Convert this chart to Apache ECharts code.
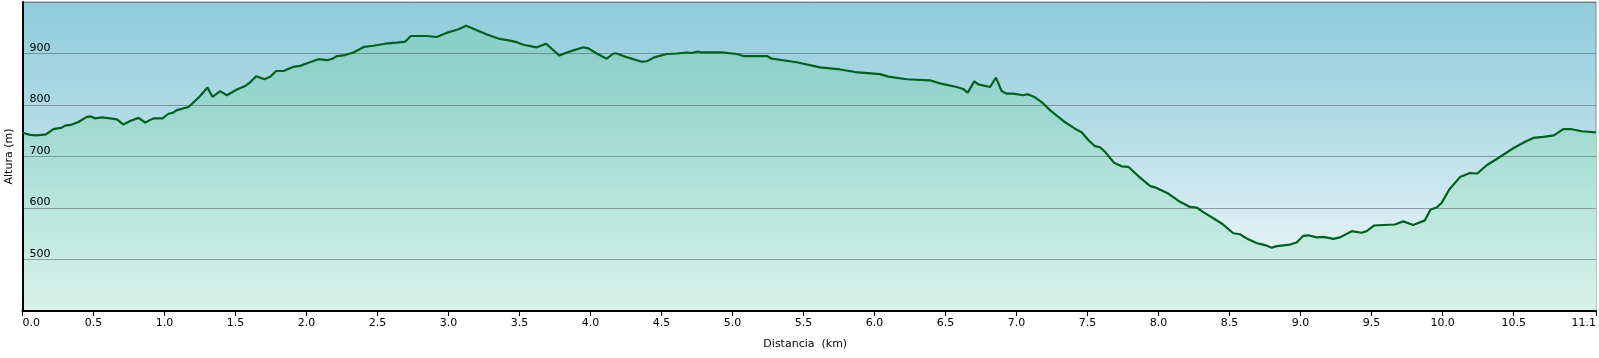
<!DOCTYPE html>
<html>
<head>
<meta charset="utf-8">
<script src="https://cdn.jsdelivr.net/npm/echarts@6/dist/echarts.min.js"></script>
<style>
  html, body { margin: 0; padding: 0; background: #fff; }
  #chart { width: 1599px; height: 358px; }
</style>
</head>
<body>
<div id="chart"></div>
<script>
// perfil de altura: distancia (km) / altura (m)
const distKm = [0, 0.054, 0.10, 0.165, 0.218, 0.277, 0.30, 0.348, 0.394, 0.453, 0.477, 0.512, 0.559, 0.617, 0.665, 0.711, 0.758, 0.817, 0.864, 0.922, 0.986,
  1.028, 1.059, 1.087, 1.169, 1.246, 1.302, 1.338, 1.392, 1.439, 1.509, 1.568, 1.603, 1.645, 1.704, 1.744, 1.786, 1.838, 1.904, 1.955,
  2.014, 2.084, 2.143, 2.185, 2.213, 2.272, 2.330, 2.406, 2.471, 2.554, 2.636, 2.694, 2.734, 2.847, 2.917, 2.976,
  3.070, 3.124, 3.175, 3.270, 3.351, 3.434, 3.481, 3.527, 3.621, 3.687, 3.781, 3.833, 3.879, 3.950, 3.985,
  4.044, 4.114, 4.161, 4.185, 4.231, 4.361, 4.396, 4.454, 4.537, 4.607, 4.678, 4.713, 4.755, 4.783, 4.935,
  5.030, 5.076, 5.241, 5.276, 5.452, 5.616, 5.757, 5.863, 6.038, 6.097, 6.226, 6.390, 6.461, 6.578, 6.625, 6.656, 6.702, 6.731, 6.813, 6.855, 6.895, 6.930, 6.977,
  7.047, 7.078, 7.130, 7.188, 7.235, 7.329, 7.411, 7.458, 7.505, 7.552, 7.587, 7.623, 7.686, 7.740, 7.787, 7.857, 7.939, 7.986,
  8.068, 8.151, 8.221, 8.268, 8.315, 8.385, 8.444, 8.526, 8.573, 8.620, 8.690, 8.749, 8.796, 8.831, 8.925, 8.972,
  9.019, 9.054, 9.113, 9.160, 9.230, 9.277, 9.360, 9.430, 9.465, 9.516, 9.582, 9.664, 9.723, 9.793, 9.875, 9.915, 9.958, 9.993,
  10.047, 10.122, 10.192, 10.244, 10.310, 10.403, 10.497, 10.591, 10.638, 10.708, 10.784, 10.849, 10.908, 10.979, 11.079];

const altM = [746, 742, 741, 743, 753, 756, 760, 762, 767, 777, 778, 774, 776, 774, 772, 762, 769, 775, 766, 774, 774,
  783, 785, 790, 796, 816, 834, 816, 827, 819, 830, 837, 844, 856, 850, 855, 866, 866, 874, 876,
  882, 889, 887, 890, 895, 897, 902, 913, 915, 919, 921, 923, 934, 934, 932, 939,
  947, 954, 948, 937, 929, 925, 922, 917, 912, 919, 896, 902, 906, 912, 910,
  900, 890, 900, 900, 895, 884, 885, 893, 899, 900, 902, 901, 904, 902, 902,
  899, 895, 895, 890, 883, 873, 869, 864, 860, 855, 850, 848, 842, 835, 831, 824, 846, 840, 835, 853, 827, 822, 822,
  819, 821, 815, 803, 790, 769, 754, 747, 732, 720, 718, 709, 688, 681, 680, 662, 643, 639,
  628, 612, 602, 601, 592, 580, 570, 551, 549, 541, 532, 528, 523, 526, 529, 533,
  546, 547, 543, 544, 540, 543, 555, 552, 555, 566, 567, 568, 574, 567, 576, 597, 601, 610,
  636, 660, 668, 667, 683, 699, 716, 730, 736, 738, 741, 753, 753, 749, 747];

const xTicks = [0, 0.5, 1, 1.5, 2, 2.5, 3, 3.5, 4, 4.5, 5, 5.5, 6, 6.5, 7, 7.5, 8, 8.5, 9, 9.5, 10, 10.5, 11.08];
const yTicks = [500, 600, 700, 800, 900];

let chartDom = document.getElementById('chart');
let myChart = echarts.init(chartDom);

const font = 'DejaVu Sans';
const points = distKm.map((d, i) => [d, altM[i]]);

var option = {
  animation: false,
  grid: {
    left: 22.5,
    right: 3,
    top: 2,
    bottom: 47,
    outerBoundsMode: 'none',
    containLabel: false,
    show: true,
    borderColor: '#8a8a8a',
    borderWidth: 1,
    backgroundColor: {
      type: 'linear', x: 0, y: 0, x2: 0, y2: 311, global: true,
      colorStops: [
        { offset: 0, color: '#8dcbd9' },
        { offset: 0.4, color: '#b3dce7' },
        { offset: 0.78, color: '#e0f0f5' },
        { offset: 1, color: '#eef7fa' },
      ],
    },
  },
  xAxis: {
    type: 'value',
    min: 0,
    max: 11.08,
    z: 3,
    name: 'Distancia  (km)',
    nameLocation: 'middle',
    nameGap: 28,
    nameTextStyle: { fontFamily: font, fontSize: 11, color: '#000', padding: [0, 8, 0, 0] },
    axisLine: { show: true, lineStyle: { color: '#000', width: 2 } },
    axisTick: { show: true, length: 5, customValues: xTicks, lineStyle: { color: '#000', width: 1 } },
    axisLabel: {
      customValues: xTicks,
      formatter: (v) => v.toFixed(1),
      fontFamily: font,
      fontSize: 11,
      color: '#000',
      margin: 7,
      alignMinLabel: 'left',
      alignMaxLabel: 'right',
    },
    splitLine: { show: false },
  },
  yAxis: {
    type: 'value',
    min: 400,
    max: 1000,
    interval: 100,
    z: 3,
    name: 'Altura (m)',
    nameLocation: 'middle',
    nameGap: 3,
    nameRotate: 90,
    nameTextStyle: { fontFamily: font, fontSize: 11, color: '#000' },
    axisLine: { show: true, lineStyle: { color: '#000', width: 2 } },
    axisTick: { show: false },
    axisLabel: {
      inside: true,
      customValues: yTicks,
      fontFamily: font,
      fontSize: 11,
      color: '#000',
      margin: 7,
      align: 'left',
      verticalAlign: 'bottom',
    },
    splitLine: { show: true, lineStyle: { color: 'rgba(85,95,100,0.55)', width: 1 } },
  },
  series: [
    {
      // relleno bajo el perfil
      type: 'line',
      data: points,
      symbol: 'none',
      z: 2,
      lineStyle: { width: 0 },
      areaStyle: {
        opacity: 1,
        color: {
          type: 'linear', x: 0, y: 0, x2: 0, y2: 311, global: true,
          colorStops: [
            { offset: 0, color: '#84c9c5' },
            { offset: 0.3, color: '#96d5cd' },
            { offset: 0.6, color: '#b3e3d8' },
            { offset: 1, color: '#d9f2ea' },
          ],
        },
      },
    },
    {
      // linea del perfil
      type: 'line',
      data: points,
      symbol: 'none',
      z: 4,
      lineStyle: { color: '#00601f', width: 2.2 },
    },
  ],
};

myChart.setOption(option);
</script>
</body>
</html>
